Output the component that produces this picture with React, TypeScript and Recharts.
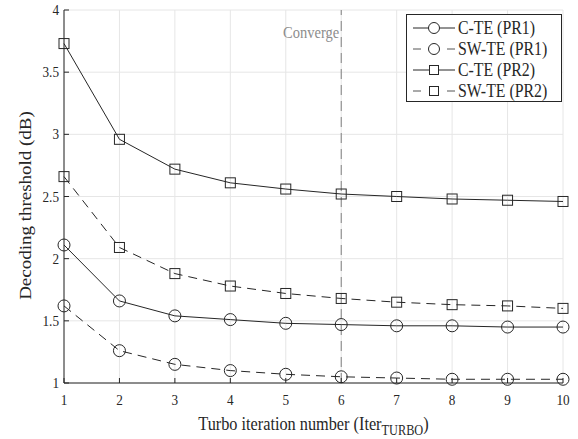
import React from "react";
import {
  CartesianGrid,
  Label,
  Line,
  LineChart,
  ReferenceLine,
  XAxis,
  YAxis,
} from "recharts";

const ITERATIONS = [1, 2, 3, 4, 5, 6, 7, 8, 9, 10];
const C_TE_PR1 = [2.11, 1.66, 1.54, 1.51, 1.48, 1.47, 1.46, 1.46, 1.45, 1.45];
const SW_TE_PR1 = [1.62, 1.26, 1.15, 1.1, 1.07, 1.05, 1.04, 1.03, 1.03, 1.03];
const C_TE_PR2 = [3.73, 2.96, 2.72, 2.61, 2.56, 2.52, 2.5, 2.48, 2.47, 2.46];
const SW_TE_PR2 = [2.66, 2.09, 1.88, 1.78, 1.72, 1.68, 1.65, 1.63, 1.62, 1.6];
const Y_TICKS = [1, 1.5, 2, 2.5, 3, 3.5, 4];
const CONVERGE_AT = 6;

const INK = "#262626";
const FONT = "'Liberation Serif', 'Times New Roman', Times, serif";
const DASH = "9 6";
const SQUEEZE = 0.88; // the original figure is a bit narrower than tall

const data = ITERATIONS.map((it, i) => ({
  it,
  cte1: C_TE_PR1[i],
  swte1: SW_TE_PR1[i],
  cte2: C_TE_PR2[i],
  swte2: SW_TE_PR2[i],
}));

const circleDot = { r: 6, fill: "none", stroke: INK, strokeWidth: 1, strokeDasharray: "none" };

function squareDot(p: any) {
  return (
    <rect
      key={`sq-${p.index}`}
      x={p.cx - 5}
      y={p.cy - 5}
      width={10}
      height={10}
      fill="none"
      stroke={INK}
      strokeWidth={1}
    />
  );
}

function Txt({ x, y, anchor, size, fill, children }: any) {
  return (
    <text
      transform={`translate(${x},${y}) scale(${SQUEEZE},1)`}
      textAnchor={anchor}
      fill={fill || INK}
      style={{ fontFamily: FONT, fontSize: size }}
    >
      {children}
    </text>
  );
}

function BottomTick(p: any) {
  return (
    <g>
      <line x1={p.x} x2={p.x} y1={p.y} y2={p.y - 5} stroke={INK} />
      <Txt x={p.x} y={p.y + 22} anchor="middle" size={15}>
        {p.payload.value}
      </Txt>
    </g>
  );
}

function TopTick(p: any) {
  return <line x1={p.x} x2={p.x} y1={p.y} y2={p.y + 5} stroke={INK} />;
}

function LeftTick(p: any) {
  return (
    <g>
      <line x1={p.x} x2={p.x + 5} y1={p.y} y2={p.y} stroke={INK} />
      <Txt x={p.x - 5} y={p.y + 5} anchor="end" size={15}>
        {p.payload.value}
      </Txt>
    </g>
  );
}

function RightTick(p: any) {
  return <line x1={p.x} x2={p.x - 5} y1={p.y} y2={p.y} stroke={INK} />;
}

function XTitle(p: any) {
  const vb = p.viewBox;
  return (
    <Txt x={vb.x + vb.width / 2} y={vb.y + 47} anchor="middle" size={18.5}>
      <tspan>Turbo iteration number (Iter</tspan>
      <tspan dy={5} style={{ fontSize: 14 }}>TURBO</tspan>
      <tspan dy={-5}>)</tspan>
    </Txt>
  );
}

function YTitle(p: any) {
  const vb = p.viewBox;
  const cy = vb.y + vb.height / 2 + 9;
  return (
    <text
      transform={`translate(31,${cy}) rotate(-90) scale(1,${SQUEEZE})`}
      textAnchor="middle"
      fill={INK}
      style={{ fontFamily: FONT, fontSize: 19 }}
    >
      Decoding threshold (dB)
    </text>
  );
}

function ConvergeLabel(p: any) {
  const vb = p.viewBox;
  return (
    <Txt x={vb.x - 2} y={vb.y + 28} anchor="end" size={16.5} fill="#8c8c8c">
      Converge
    </Txt>
  );
}

const LEGEND = [
  { name: "C-TE (PR1)", dashed: false, marker: "circle" },
  { name: "SW-TE (PR1)", dashed: true, marker: "circle" },
  { name: "C-TE (PR2)", dashed: false, marker: "square" },
  { name: "SW-TE (PR2)", dashed: true, marker: "square" },
];

function LegendBox() {
  return (
    <svg
      width={158}
      height={90}
      style={{ position: "absolute", left: 405, top: 13, display: "block" }}
    >
      <rect x={1.5} y={1.5} width={155} height={87} fill="#fff" stroke={INK} />
      {LEGEND.map((l, i) => {
        const cy = 15 + i * 21;
        return (
          <g key={l.name}>
            <line
              x1={8}
              x2={50}
              y1={cy}
              y2={cy}
              stroke={l.dashed ? "#555" : INK}
              strokeDasharray={l.dashed ? "8 9" : undefined}
            />
            {l.marker === "circle" ? (
              <circle cx={29} cy={cy} r={5.5} fill="#fff" stroke={INK} />
            ) : (
              <rect x={24.5} y={cy - 4.5} width={9} height={9} fill="#fff" stroke={INK} />
            )}
            <Txt x={53} y={cy + 6} anchor="start" size={18}>
              {l.name}
            </Txt>
          </g>
        );
      })}
    </svg>
  );
}

export default function App() {
  return (
    <div style={{ position: "relative", width: 578, height: 439, background: "#fff", fontFamily: FONT }}>
      <style>{"body{margin:0}"}</style>
      <LineChart
        width={578}
        height={439}
        data={data}
        margin={{ top: 10, right: 15, left: 0, bottom: 0 }}
      >
        <CartesianGrid stroke="#e6e6e6" strokeDasharray="none" />
        <XAxis
          dataKey="it"
          type="number"
          domain={[1, 10]}
          ticks={ITERATIONS}
          height={56}
          tickSize={0}
          tickMargin={0}
          axisLine={{ stroke: INK }}
          tickLine={false}
          tick={<BottomTick />}
        >
          <Label content={<XTitle />} />
        </XAxis>
        <XAxis
          xAxisId="top"
          dataKey="it"
          type="number"
          orientation="top"
          domain={[1, 10]}
          ticks={ITERATIONS}
          height={0}
          tickSize={0}
          tickMargin={0}
          axisLine={{ stroke: INK }}
          tickLine={false}
          tick={<TopTick />}
        />
        <YAxis
          type="number"
          domain={[1, 4]}
          ticks={Y_TICKS}
          width={64}
          tickSize={0}
          tickMargin={0}
          axisLine={{ stroke: INK }}
          tickLine={false}
          tick={<LeftTick />}
        >
          <Label content={<YTitle />} />
        </YAxis>
        <YAxis
          yAxisId="right"
          orientation="right"
          type="number"
          domain={[1, 4]}
          ticks={Y_TICKS}
          width={0}
          tickSize={0}
          tickMargin={0}
          axisLine={{ stroke: INK }}
          tickLine={false}
          tick={<RightTick />}
        />
        <ReferenceLine
          x={CONVERGE_AT}
          stroke="#808080"
          strokeDasharray="10 6"
          label={<ConvergeLabel />}
        />
        <Line
          dataKey="cte1"
          stroke={INK}
          strokeWidth={1}
          dot={circleDot}
          isAnimationActive={false}
        />
        <Line
          dataKey="swte1"
          stroke={INK}
          strokeWidth={1}
          strokeDasharray={DASH}
          dot={circleDot}
          isAnimationActive={false}
        />
        <Line
          dataKey="cte2"
          stroke={INK}
          strokeWidth={1}
          dot={squareDot}
          isAnimationActive={false}
        />
        <Line
          dataKey="swte2"
          stroke={INK}
          strokeWidth={1}
          strokeDasharray={DASH}
          dot={squareDot}
          isAnimationActive={false}
        />
      </LineChart>
      <LegendBox />
    </div>
  );
}
